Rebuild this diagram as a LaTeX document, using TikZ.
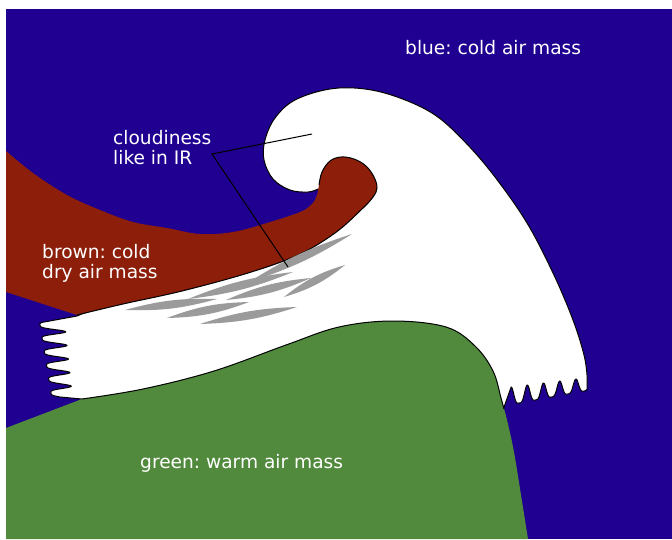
\documentclass[tikz,border=0pt]{standalone}
\usepackage{fontspec}
\setmainfont{DejaVu Sans}
\frenchspacing
\definecolor{coldblue}{RGB}{32,0,144}
\definecolor{drybrown}{RGB}{140,30,10}
\definecolor{warmgreen}{RGB}{81,138,61}
\definecolor{streakgray}{RGB}{155,155,155}
\begin{document}
\begin{tikzpicture}[x=1pt, y=-1pt,
  masslabel/.style={font=\fontsize{18.6}{19.5}\selectfont, text=white, inner sep=0pt, align=left},
  outline/.style={draw=black, line width=1pt, line join=round},
  cloud/.style={fill=white, outline},
  streak/.style={fill=streakgray},
  leader/.style={draw=black, line width=1pt}]
\useasboundingbox (0,0) rectangle (672,539);
% cold air background
\fill[coldblue] (6,9) rectangle (672,539);

% comma-shaped cloud band (its lower part is covered by the warm sector)
\path[cloud] (46.5,321.6) -- (77,316) -- (150,285) -- (250,258) -- (320,222) -- (350,190) -- (318,189)
  -- plot[smooth, tension=0.6] coordinates {(318,189) (308,192) (290,190) (273,179) (264,160) (265,140) (275,118) (295,100) (330,89) (365,89) (400,98) (435,115) (465,142) (495,177) (527,223) (553,273) (573,320) (584,355) (587,375)}
  -- plot[domain=-0.2:4.5, samples=200, variable=\t] ({584-16.2*\t}, {378+2*\t+(13+\t)*(1-(sin(180*\t))^4)})
  -- (503,410) -- (490,420) -- (300,418) -- (150,418) -- (88,410) -- (82,399) -- (60,397)
  -- plot[domain=5.2:-0.2, samples=220, variable=\t] ({65+1.4*\t+(-25+0.8*\t)*(1-(sin(180*\t))^4)}, {325+13.6*\t})
  -- cycle;

% cold dry air intrusion
\fill[drybrown] (6,151) -- plot[smooth, tension=0.6] coordinates {(6,151) (33,173) (67,195) (100,210) (133,222) (167,228) (200,234) (233,232) (267,223) (300,212) (312,204) (317,195) (319,185) (322,172) (330,161) (341,157) (354,159) (366,166) (374,177) (377,188) (373,197) (362,209) (335,233) (298,255) (248,273) (182,291) (123,304) (77,315)} -- (6,292) -- cycle;
\draw[outline] plot[smooth, tension=0.6] coordinates {(319,185) (322,172) (330,161) (341,157) (354,159) (366,166) (374,177) (377,188) (373,197) (362,209) (335,233) (298,255) (248,273) (182,291) (123,304) (77,315)};

% warm sector
\fill[warmgreen] (6,428) -- (82,399) -- plot[smooth, tension=0.6] coordinates {(82,399) (143,389) (214,371) (286,345) (339,327) (393,321) (446,327) (475,346) (493,371) (501,398) (507,420) (514,452) (521,495) (528,539)} -- (6,539) -- cycle;
\draw[outline] plot[smooth, tension=0.6] coordinates {(82,399) (143,389) (214,371) (286,345) (339,327) (393,321) (446,327) (475,346) (493,371) (501,398) (504,409)};

% cloud streaks
\fill[streak] (352,234) to[bend left=7] (249,282) to[bend left=7] (352,234);
\fill[streak] (345,265) to[bend left=11] (284,297) to[bend left=11] (345,265);
\fill[streak] (311,278) to[bend left=9] (226,300) to[bend left=9] (311,278);
\fill[streak] (293,272) to[bend left=7.5] (188,299) to[bend left=7.5] (293,272);
\fill[streak] (217,299) to[bend left=8.5] (125,310) to[bend left=8.5] (217,299);
\fill[streak] (249,302) to[bend left=9.5] (167,318) to[bend left=9.5] (249,302);
\fill[streak] (297,307) to[bend left=8] (200,324) to[bend left=8] (297,307);

% labels
\node[masslabel, anchor=base west] (bluelabel) at (405,54) {blue: cold air mass};
\node[masslabel, anchor=base west] (cloudlabel) at (113,164) {cloudiness\\like in IR};
\node[masslabel, anchor=base west] (brownlabel) at (42,278) {brown: cold\\dry air mass};
\node[masslabel, anchor=base west] (greenlabel) at (140,468) {green: warm air mass};

% leader from the label to the cloud head and to the streaks
\coordinate (irhead) at (312,134);
\coordinate (irknee) at (212,154);
\coordinate (irstreak) at (288,267);
\draw[leader] (irhead) -- (irknee) -- (irstreak);
\end{tikzpicture}
\end{document}
